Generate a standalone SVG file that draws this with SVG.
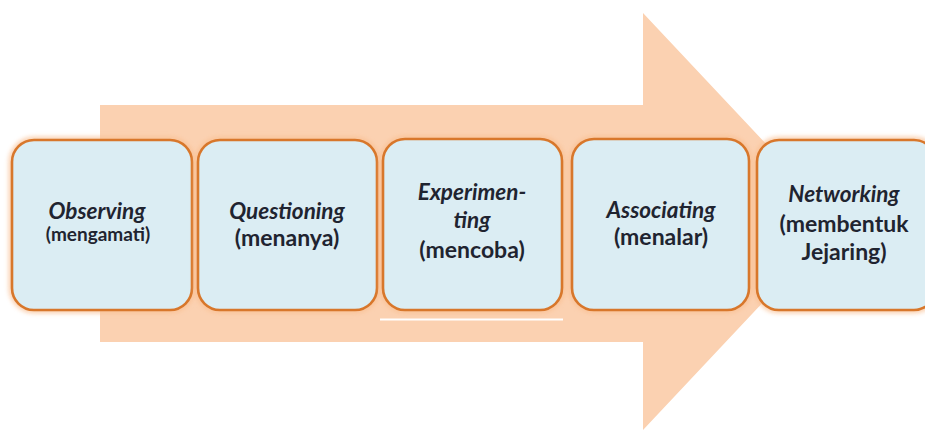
<svg xmlns="http://www.w3.org/2000/svg" width="925" height="433" viewBox="0 0 925 433">
  <style>
    .arrow { fill: #fbd1b1; }
    .halo { fill: none; stroke: #f9bf92; stroke-width: 7; opacity: 0.7; }
    .box { fill: #dbedf3; stroke: #d8772b; stroke-width: 2.6; }
    .t { font-family: Lato, "Open Sans", "Liberation Sans", sans-serif; font-weight: bold; fill: #1f2430; text-anchor: middle; }
    .en { font-style: italic; font-size: 22.5px; }
    .id { font-size: 23px; }
    .ids { font-size: 19px; }
  </style>
  <defs>
    <filter id="glow" x="-10%" y="-10%" width="120%" height="120%">
      <feGaussianBlur stdDeviation="2"/>
    </filter>
  </defs>
  <rect width="925" height="433" fill="#ffffff"/>
  <g id="connectors">
    <path class="arrow" d="M100,105 H643 V13 L839,221.5 L643,430 V342 H100 Z"/>
    <line x1="380" y1="319.5" x2="563" y2="319.5" stroke="#ffffff" stroke-width="2"/>
  </g>
  <g id="node-observing">
    <rect class="halo" x="12" y="140" width="180" height="170" rx="22" filter="url(#glow)"/>
    <rect class="box" x="12" y="140" width="180" height="170" rx="22"/>
    <text class="t en" x="97" y="219">Observing</text>
    <text class="t ids" x="98" y="241">(mengamati)</text>
  </g>
  <g id="node-questioning">
    <rect class="halo" x="198" y="140" width="179" height="170" rx="22" filter="url(#glow)"/>
    <rect class="box" x="198" y="140" width="179" height="170" rx="22"/>
    <text class="t en" x="287" y="219">Questioning</text>
    <text class="t id" x="287" y="246">(menanya)</text>
  </g>
  <g id="node-experimenting">
    <rect class="halo" x="383" y="139" width="179" height="171" rx="22" filter="url(#glow)"/>
    <rect class="box" x="383" y="139" width="179" height="171" rx="22"/>
    <text class="t en" x="472" y="200">Experimen-</text>
    <text class="t en" x="472" y="228">ting</text>
    <text class="t id" x="472" y="258">(mencoba)</text>
  </g>
  <g id="node-associating">
    <rect class="halo" x="572" y="139" width="177" height="171" rx="22" filter="url(#glow)"/>
    <rect class="box" x="572" y="139" width="177" height="171" rx="22"/>
    <text class="t en" x="661" y="218">Associating</text>
    <text class="t id" x="661" y="245">(menalar)</text>
  </g>
  <g id="node-networking">
    <rect class="halo" x="757" y="140" width="179" height="170" rx="22" filter="url(#glow)"/>
    <rect class="box" x="757" y="140" width="179" height="170" rx="22"/>
    <text class="t en" x="844" y="202">Networking</text>
    <text class="t id" x="844" y="232">(membentuk</text>
    <text class="t id" x="844" y="260">Jejaring)</text>
  </g>
</svg>
